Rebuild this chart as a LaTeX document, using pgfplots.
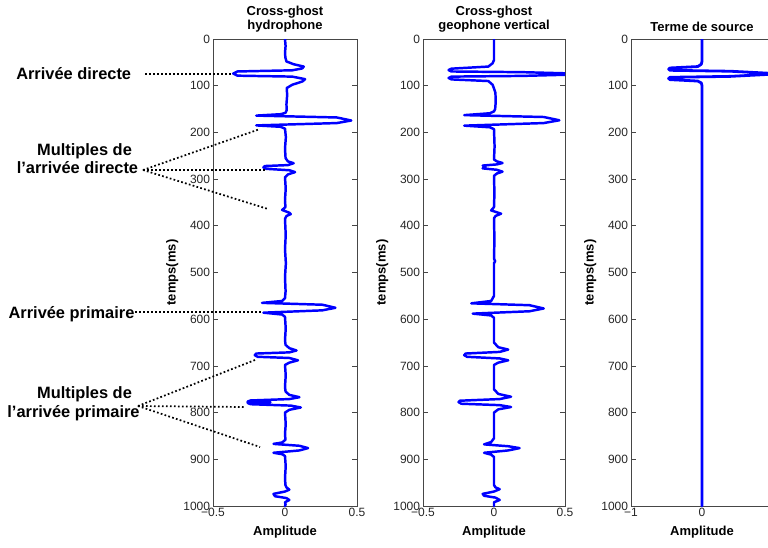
\documentclass[border=0pt]{standalone}
\usepackage{fontspec}
\setmainfont{Liberation Sans}
\usepackage{pgfplots}
\pgfplotsset{compat=1.18}
\definecolor{traceblue}{RGB}{0,0,255}
\definecolor{framegray}{RGB}{70,70,70}
\tikzset{
  trace/.style={traceblue, line width=1.85pt, line join=round, line cap=round},
  anno/.style={font=\bfseries\fontsize{12.3}{14}\selectfont, inner sep=0pt},
  dots/.style={black, line width=1.3pt, dash pattern=on 1.3pt off 1.7pt},
}
\pgfplotsset{
  panel/.style={
    scale only axis, height=350.25pt, anchor=south west,
    y dir=reverse, ymin=0, ymax=1000, ytick={0,100,...,1000},
    axis line style={framegray, line width=0.75pt},
    tick style={framegray, line width=0.6pt},
    tick align=inside, major tick length=3.5pt,
    /pgf/number format/assume math mode=true,
    /pgf/number format/1000 sep={},
    tick label style={font=\fontsize{9}{10}\selectfont, text=black!85},
    yticklabel style={inner xsep=2pt},
    xticklabel style={inner ysep=1.5pt},
    xlabel={Amplitude}, ylabel={temps(ms)},
    every axis x label/.style={at={(axis description cs:0.5,0)}, anchor=center, yshift=-19.5pt, font=\bfseries\fontsize{9.75}{11}\selectfont},
    every axis y label/.style={at={(axis description cs:0,0.5)}, anchor=center, rotate=90, yshift=30.5pt, font=\bfseries\fontsize{9.75}{11}\selectfont},
    every axis title/.style={at={(axis description cs:0.5,1)}, anchor=south, yshift=5pt, inner sep=0pt, align=center, font=\bfseries\fontsize{9.75}{10.5}\selectfont},
  },
}
\begin{document}
\begin{tikzpicture}
\path[use as bounding box] (0pt,0pt) rectangle (576pt,-410.25pt);
\clip (0pt,0pt) rectangle (576pt,-410.25pt);

\begin{axis}[panel, at={(159.75pt,-379.5pt)}, width=108pt,
  title={Cross-ghost\\hydrophone},
  xmin=-0.5, xmax=0.5, xtick={-0.5,0,0.5}, xticklabels={−0.5,0,0.5}]
\addplot[trace, no markers] coordinates {
(0,0) (0.004,15) (0,30) (0.003,40) (0.01,48) (0.06,54) (0.13,59) (0.12,63) (0.05,67) (-0.33,69.5) (-0.36,74) (-0.33,78.5) (0.05,80.5) (0.14,86) (0.12,91) (0.05,98) (0.012,105) (0.015,120) (0.01,140) (0.012,152) (0.004,158) (-0.03,161) (-0.2,164) (0.36,168) (0.46,174.5) (0.36,180) (-0.2,185) (-0.03,188) (0,192) (0.006,210) (0,235) (0.004,255) (0.02,262) (0.06,266) (0.02,270) (-0.14,272) (-0.15,275) (-0.13,278) (0.03,281) (0.07,285) (0.02,290) (0,296) (0.005,320) (0,345) (0.003,360) (-0.02,366) (0.03,372) (0.04,375) (0.01,379) (0,385) (0.005,420) (0,450) (0.006,480) (0,510) (0.004,540) (0,555) (-0.02,561) (-0.16,565) (0.26,569) (0.35,575.5) (0.26,581) (-0.15,586) (-0.02,590) (0,595) (0.005,620) (0,645) (0.004,655) (0.03,662) (0.08,667) (0.03,671) (-0.2,673.5) (-0.21,677) (-0.19,680.5) (0.03,683) (0.09,688) (0.03,693) (0,698) (0.005,720) (0,745) (0.004,755) (0.03,762) (0.1,767) (0.03,771) (-0.24,774) (-0.26,776.5) (-0.1,777.5) (-0.26,779) (-0.24,782) (0.04,785) (0.11,789) (0.03,794) (0,800) (0.005,825) (0,845) (0.003,858) (-0.02,864) (-0.08,867) (0.1,871) (0.16,876) (0.1,881) (-0.08,886) (-0.02,889) (0,893) (0.005,915) (0,940) (0.003,955) (0.01,960) (0.03,965) (0,969) (-0.08,974) (-0.07,979) (0.01,983) (0.03,987) (0,992) (0.004,997) (0,1000)
};
\end{axis}

\begin{axis}[panel, at={(317.25pt,-379.5pt)}, width=106.5pt,
  title={Cross-ghost\\geophone vertical},
  xmin=-0.5, xmax=0.5, xtick={-0.5,0,0.5}, xticklabels={−0.5,0,0.5}]
\addplot[trace, no markers] coordinates {
(0,0) (0,45) (-0.01,52) (-0.04,59) (-0.3,63.5) (-0.32,66.5) (-0.3,69.5) (0.2,71) (0.7,75) (0.2,79) (-0.3,80.5) (-0.32,83.5) (-0.3,86.5) (-0.04,90) (-0.01,98) (0,106) (0.01,115) (0.012,135) (0.008,150) (0,155) (-0.03,159) (-0.21,163) (0.35,167) (0.46,174) (0.35,180) (-0.21,185.5) (-0.03,189) (0,193) (0.004,230) (0,258) (0.02,262) (0.06,265.5) (0.02,268.5) (-0.08,271) (-0.06,274) (-0.08,277) (0.02,280) (0.06,284) (0.02,288) (0,293) (0.003,330) (0,360) (-0.02,367) (0.05,374) (0.01,379) (0,384) (0.003,430) (0,470) (0.008,476) (0,480) (0,550) (-0.02,561) (-0.16,566) (0.25,570) (0.35,577) (0.25,583) (-0.15,588) (-0.02,592) (0,597) (0,650) (0.03,660) (0.1,665) (0.04,670) (-0.2,673.5) (-0.21,677) (-0.19,680.5) (0.04,684) (0.1,688) (0.03,693) (0,698) (0,750) (0.03,760) (0.12,766) (0.04,771) (-0.24,774.5) (-0.25,777.5) (-0.23,781) (0.04,784) (0.12,788) (0.03,793) (0,800) (0,855) (-0.02,863) (-0.07,868) (0.1,872) (0.18,876) (0.1,881) (-0.07,886) (-0.02,890) (0,895) (0,955) (0.01,960) (0.04,964) (0,969) (-0.08,974) (-0.07,978) (0.01,982) (0.04,987) (0,992) (0,1000)
};
\end{axis}

\begin{axis}[panel, at={(473.25pt,-379.5pt)}, width=106.5pt,
  title={Terme de source},
  xmin=-1, xmax=1, xtick={-1,0,1}, xticklabels={−1,0,{}}]
\addplot[trace, no markers, line width=2.1pt] coordinates {
(0,0) (0,48) (-0.01,54) (-0.06,59) (-0.45,62) (-0.47,64.5) (-0.45,67) (0.4,69) (1.1,74.5) (0.4,80) (-0.45,82) (-0.47,84.5) (-0.45,87) (-0.06,90) (-0.01,94) (0,100) (0,1000)
};
\end{axis}

\begin{scope}[x=0.75pt, y=-0.75pt]
\node[anno, anchor=base west] at (16,79) {Arrivée directe};
\node[anno, anchor=base] at (84.5,155) {Multiples de};
\node[anno, anchor=base] at (77.5,173) {l’arrivée directe};
\node[anno, anchor=base] at (71.5,318) {Arrivée primaire};
\node[anno, anchor=base] at (84.5,398) {Multiples de};
\node[anno, anchor=base] at (73.5,417) {l’arrivée primaire};
\draw[dots] (145,74) -- (232,74);
\draw[dots] (143,170) -- (260,129);
\draw[dots] (143,170) -- (265,170);
\draw[dots] (143,170) -- (268,209);
\draw[dots] (135,312) -- (262,312);
\draw[dots] (138,406) -- (255,360);
\draw[dots] (138,406) -- (245,407);
\draw[dots] (138,406) -- (260,447);
\end{scope}
\end{tikzpicture}
\end{document}
